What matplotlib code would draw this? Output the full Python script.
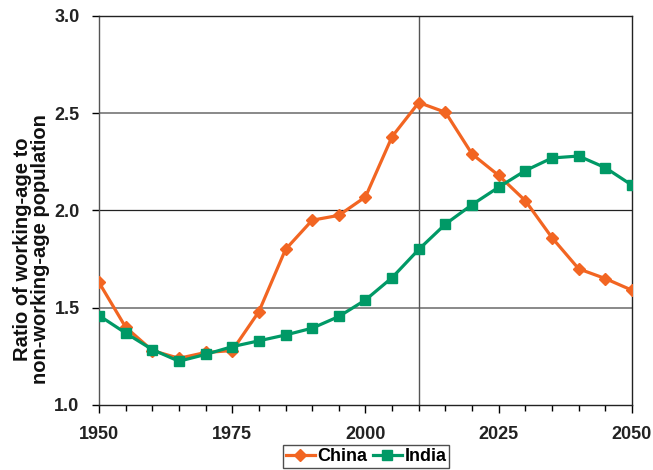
import matplotlib.pyplot as plt
from matplotlib.ticker import MultipleLocator

plt.rcParams['font.family'] = ['Liberation Sans', 'DejaVu Sans']

# Ratio of working-age to non-working-age population
years = [1950, 1955, 1960, 1965, 1970, 1975, 1980, 1985, 1990, 1995, 2000,
         2005, 2010, 2015, 2020, 2025, 2030, 2035, 2040, 2045, 2050]
china = [1.63, 1.40, 1.28, 1.24, 1.27, 1.28, 1.48, 1.80, 1.95, 1.975, 2.07,
         2.38, 2.555, 2.505, 2.29, 2.18, 2.05, 1.86, 1.70, 1.65, 1.59]
india = [1.46, 1.37, 1.285, 1.225, 1.26, 1.30, 1.33, 1.36, 1.395, 1.455, 1.54,
         1.655, 1.80, 1.93, 2.03, 2.12, 2.205, 2.27, 2.28, 2.22, 2.13]

orange = '#F26522'
green = '#009966'

fig = plt.figure(figsize=(6.53, 4.70), dpi=100)
ax = fig.add_axes([0.1516, 0.1383, 0.8162, 0.8277])

# grid lines
for yv, col, lw in [(1.5, '#808080', 1.3), (2.0, '#222222', 0.9), (2.5, '#808080', 1.3)]:
    ax.axhline(yv, color=col, lw=lw, zorder=1)
ax.axvline(2010, color='#555555', lw=1.0, zorder=1)

ax.plot(years, china, color=orange, lw=2.3, marker='D', ms=6, label='China', zorder=3)
ax.plot(years, india, color=green, lw=2.3, marker='s', ms=6.5, label='India', zorder=3)

ax.set_xlim(1950, 2050)
ax.set_ylim(1.0, 3.0)
ax.xaxis.set_major_locator(MultipleLocator(25))
ax.xaxis.set_minor_locator(MultipleLocator(5))
ax.yaxis.set_major_locator(MultipleLocator(0.5))
ax.yaxis.set_major_formatter(plt.FormatStrFormatter('%.1f'))

ax.tick_params(axis='x', which='major', direction='out', length=6, width=1, pad=9,
               labelsize=13)
ax.tick_params(axis='x', which='minor', direction='out', length=4, width=1)
ax.tick_params(axis='y', direction='out', length=5, width=1, pad=9, labelsize=13)
for lab in ax.get_xticklabels() + ax.get_yticklabels():
    lab.set_fontweight('bold')
    lab.set_color('#222222')

for side in ['left', 'right', 'top', 'bottom']:
    ax.spines[side].set_color('#222222')
    ax.spines[side].set_linewidth(1.0)
ax.spines['left'].set_color('#555555')

ax.set_ylabel('Ratio of working-age to\nnon-working-age population', fontsize=14.5,
              fontweight='bold', linespacing=0.92, color='#111111')
ax.yaxis.set_label_coords(-0.092, 0.40)

fig.legend(loc='upper center', bbox_to_anchor=(0.561, 0.072), ncol=2,
           frameon=True, fancybox=False, edgecolor='#222222', handlelength=1.6,
           handletextpad=0.15, columnspacing=0.3, borderpad=0.15,
           prop={'weight': 'bold', 'size': 13})

fig.savefig('out.png', dpi=100)
